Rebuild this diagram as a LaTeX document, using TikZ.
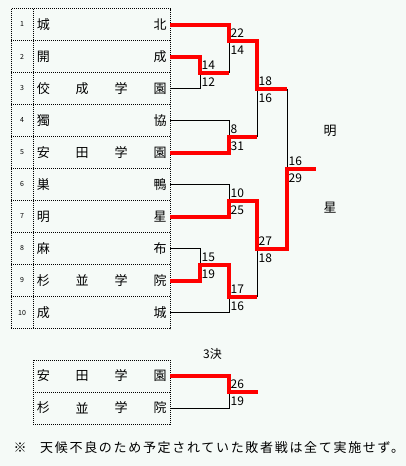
\documentclass[tikz,border=0pt]{standalone}
\usepackage{fontspec}
\setmainfont{Noto Sans CJK JP}
\newfontfamily\notefont[LetterSpace=13]{Noto Sans CJK JP}
\usetikzlibrary{calc}
\definecolor{pagebg}{RGB}{245,250,247}
\definecolor{winred}{RGB}{255,0,0}

\begin{document}
\begin{tikzpicture}[x=1pt, y=-1pt,
    frame/.style={line width=0.9pt, dash pattern=on 1pt off 1pt},
    lose/.style={line width=1pt, black},
    win/.style={line width=4pt, winred},
    num/.style={font=\fontsize{7}{8}\selectfont, inner sep=0pt},
    kanji/.style={font=\fontsize{13}{14}\selectfont, inner sep=0pt},
    score/.style={font=\fontsize{12}{13}\selectfont, inner sep=0pt, anchor=west}]
    \useasboundingbox (0,0) rectangle (406,466);
    \fill[pagebg] (0,0) rectangle (406,466);

    % draw table
    \draw[frame] (11,8.5) rectangle (170,328.5);
    \draw[frame] (33,8.5) -- (33,328.5);
    \foreach \i in {1,...,9}
      \draw[frame] (11,8.5+32*\i) -- (170,8.5+32*\i);

    \foreach \i/\first/\last in {1/城/北,2/開/成,3/佼/園,4/獨/協,5/安/園,6/巣/鴨,7/明/星,8/麻/布,9/杉/院,10/成/城}
    {
      \node[num] (n\i) at (22,32*\i-7.5) {\i};
      \node[kanji] (a\i) at (43.3,32*\i-7.5) {\first};
      \node[kanji] (z\i) at (160,32*\i-7.5) {\last};
      \coordinate (r\i) at (170,32*\i-7.5);
    }
    \foreach \i/\b/\c in {3/成/学,5/田/学,9/並/学}
    {
      \node[kanji] (b\i) at (82.2,32*\i-7.5) {\b};
      \node[kanji] (c\i) at (121.1,32*\i-7.5) {\c};
    }

    \coordinate (m1) at (200,72.5);
    \coordinate (m2) at (229,40.5);
    \coordinate (m3) at (229,136.5);
    \coordinate (m4) at (229,200.5);
    \coordinate (m5) at (200,264.5);
    \coordinate (m6) at (229,296.5);
    \coordinate (s1) at (257,88.5);
    \coordinate (s2) at (257,248.5);
    \coordinate (f) at (287,168.5);
    \coordinate (champ) at (316,168.5);

    \draw[lose] (r3) -| (m1);
    \draw[lose] (m1 -| m2) -- (m2);
    \draw[lose] (r4) -| (m3);
    \draw[lose] (m3 -| s1) -- (s1);
    \draw[lose] (s1 -| f) -- (f);
    \draw[lose] (r6) -| (m4);
    \draw[lose] (r8) -| (m5);
    \draw[lose] (r10) -| (m6);
    \draw[lose] (m6 -| s2) -- (s2);

    \draw[win] (r1) -| (m2) -| (s1) -- (s1 -| f);
    \draw[win] (r2) -| (m1) -- (m1 -| m2);
    \draw[win] (r5) -| (m3) -- (m3 -| s1);
    \draw[win] (r7) -| (m4) -| (s2) -| (f) -- (champ);
    \draw[win] (r9) -| (m5) -| (m6) -- (m6 -| s2);

    \node[kanji] (champ1) at (330,131) {明};
    \node[kanji] (champ2) at (330,208) {星};

    % 3rd place
    \node[kanji, font=\fontsize{12}{13}\selectfont] (bronze) at (212.5,354) {3決};
    \draw[frame] (33,360) rectangle (170,424);
    \draw[frame] (33,392) -- (170,392);
    \foreach \i/\a/\b/\c/\d in {1/安/田/学/園,2/杉/並/学/院}
    {
      \node[kanji] (qa\i) at (43.3,344+32*\i) {\a};
      \node[kanji] (qb\i) at (82.2,344+32*\i) {\b};
      \node[kanji] (qc\i) at (121.1,344+32*\i) {\c};
      \node[kanji] (qd\i) at (160,344+32*\i) {\d};
      \coordinate (q\i) at (170,344+32*\i);
    }
    \coordinate (t) at (229,392);
    \coordinate (tend) at (258,392);
    \draw[lose] (q2) -| (t);
    \draw[win] (q1) -| (t) -- (tend);

    \foreach \m/\up/\dn in {m1/14/12,m2/22/14,m3/8/31,m4/10/25,m5/15/19,m6/17/16,s1/18/16,s2/27/18,f/16/29,t/26/19}
    {
      \node[score] (\m-up) at ($(\m)+(1.5,-7.5)$) {\up};
      \node[score] (\m-dn) at ($(\m)+(1.5,9.5)$) {\dn};
    }

    \node[kanji] (mark) at (20,448) {※};
    \node[kanji, anchor=west, font=\notefont\fontsize{13}{14}\selectfont] (note) at (40,448)
      {天候不良のため予定されていた敗者戦は全て実施せず。};
\end{tikzpicture}
\end{document}
